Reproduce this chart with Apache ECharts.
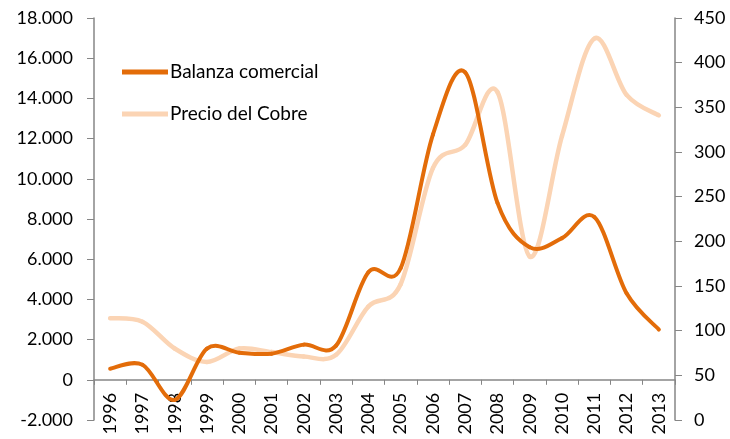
<!DOCTYPE html>
<html>
<head>
<meta charset="utf-8">
<script src="https://cdn.jsdelivr.net/npm/echarts@6/dist/echarts.min.js"></script>
<style>
  html, body { margin: 0; padding: 0; background: #fff; }
  #main { width: 730px; height: 439px; }
</style>
</head>
<body>
<div id="main"></div>
<script>
var years = ['1996', '1997', '1998', '1999', '2000', '2001', '2002', '2003', '2004',
             '2005', '2006', '2007', '2008', '2009', '2010', '2011', '2012', '2013'];
// Balanza comercial (left axis)
var balanza = [550, 750, -1000, 1550, 1350, 1300, 1750, 1700, 5350,
               5550, 12200, 15300, 8800, 6600, 7050, 8100, 4300, 2500];
// Precio del Cobre (right axis)
var cobre = [114, 110, 80, 65, 80, 76, 71, 73, 127,
             152, 282, 308, 367, 183, 318, 427, 364, 341];

var darkOrange = '#E36C09';
var lightPeach = '#FBD4B4';
var axisGray = '#868686';
var font = 'Lato';

function miles(v) {
  var s = String(Math.abs(v));
  s = s.replace(/\B(?=(\d{3})+(?!\d))/g, '.');
  return (v < 0 ? '-' : '') + s;
}

// smoothed line like the spreadsheet one (catmull-rom through the points)
function smoothLine(values, color, width) {
  return function (params, api) {
    if (params.dataIndex !== 0) return null;
    var pts = values.map(function (v, i) { return api.coord([i, v]); });
    var n = pts.length;
    var segs = [];
    for (var i = 0; i < n - 1; i++) {
      var p0 = pts[Math.max(i - 1, 0)], p1 = pts[i], p2 = pts[i + 1], p3 = pts[Math.min(i + 2, n - 1)];
      segs.push({
        type: 'bezierCurve',
        shape: {
          x1: p1[0], y1: p1[1],
          x2: p2[0], y2: p2[1],
          cpx1: p1[0] + (p2[0] - p0[0]) / 6, cpy1: p1[1] + (p2[1] - p0[1]) / 6,
          cpx2: p2[0] - (p3[0] - p1[0]) / 6, cpy2: p2[1] - (p3[1] - p1[1]) / 6
        },
        style: { fill: null, stroke: color, lineWidth: width, lineCap: 'round' }
      });
    }
    return { type: 'group', children: segs };
  };
}

var myChart = echarts.init(document.getElementById('main'));

var option = {
  animation: false,
  textStyle: { fontFamily: font },
  grid: { left: 94, right: 55, top: 18, bottom: 19, outerBoundsMode: 'none', containLabel: false },
  legend: {
    orient: 'vertical',
    left: 117,
    top: 57,
    itemWidth: 46,
    itemHeight: 5,
    itemGap: 22,
    textStyle: { fontFamily: font, fontSize: 19, lineHeight: 20, color: '#000', padding: [0, 0, 0, -3] },
    data: [
      { name: 'Balanza comercial', icon: 'rect' },
      { name: 'Precio del Cobre', icon: 'rect' }
    ]
  },
  xAxis: {
    type: 'category',
    data: years,
    boundaryGap: true,
    offset: -40.2,
    axisLine: { onZero: false, lineStyle: { color: axisGray, width: 1.5 } },
    axisTick: { show: true, length: 5, alignWithLabel: false, lineStyle: { color: axisGray } },
    axisLabel: { rotate: 90, margin: 13, fontFamily: font, fontSize: 18, color: '#000', interval: 0 }
  },
  yAxis: [{
    type: 'value',
    min: -2000,
    max: 18000,
    interval: 2000,
    splitLine: { show: false },
    axisLine: { show: true, lineStyle: { color: axisGray, width: 1.5 } },
    axisTick: { show: true, length: 7, lineStyle: { color: axisGray } },
    axisLabel: { margin: 21, fontFamily: font, fontSize: 18, color: '#000', formatter: miles }
  }, {
    type: 'value',
    min: 0,
    max: 450,
    interval: 50,
    splitLine: { show: false },
    axisLine: { show: true, lineStyle: { color: axisGray, width: 1.5 } },
    axisTick: { show: true, length: 7, lineStyle: { color: axisGray } },
    axisLabel: { margin: 19, fontFamily: font, fontSize: 18, color: '#000' }
  }],
  series: [{
    name: 'Balanza comercial',
    type: 'custom',
    yAxisIndex: 0,
    z: 3,
    itemStyle: { color: darkOrange },
    renderItem: smoothLine(balanza, darkOrange, 4),
    encode: { x: 0, y: 1 },
    data: balanza.map(function (v, i) { return [i, v]; })
  }, {
    name: 'Precio del Cobre',
    type: 'custom',
    yAxisIndex: 1,
    z: 2,
    itemStyle: { color: lightPeach },
    renderItem: smoothLine(cobre, lightPeach, 4.5),
    encode: { x: 0, y: 1 },
    data: cobre.map(function (v, i) { return [i, v]; })
  }]
};
myChart.setOption(option);
</script>
</body>
</html>
